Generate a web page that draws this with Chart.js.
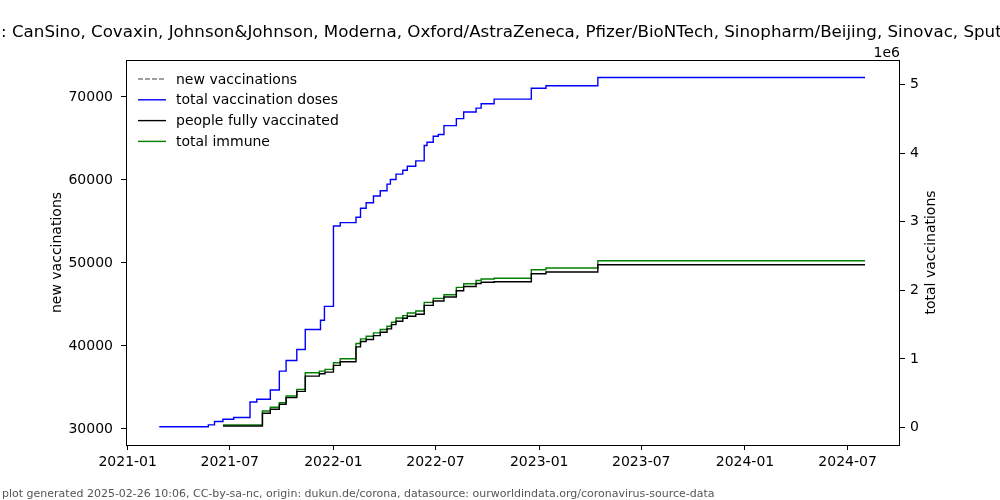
<!DOCTYPE html>
<html>
<head>
<meta charset="utf-8">
<script src="https://cdn.jsdelivr.net/npm/chart.js@4/dist/chart.umd.min.js"></script>
<style>
  html, body { margin: 0; padding: 0; background: #fff; }
  #wrap { width: 1000px; height: 500px; }
</style>
</head>
<body>
<div id="wrap"><canvas id="vaccChart" width="1000" height="500"></canvas></div>
<script>
// Daten
const titleText = ': CanSino, Covaxin, Johnson&Johnson, Moderna, Oxford/AstraZeneca, Pfizer/BioNTech, Sinopharm/Beijing, Sinovac, Sputnik V';
const footerText = 'plot generated 2025-02-26 10:06, CC-by-sa-nc, origin: dukun.de/corona, datasource: ourworldindata.org/coronavirus-source-data';

const seriesNames = ['new vaccinations', 'total vaccination doses', 'people fully vaccinated', 'total immune'];

const xTickDates = ['2021-01-01', '2021-07-01', '2022-01-01', '2022-07-01', '2023-01-01', '2023-07-01', '2024-01-01', '2024-07-01'];
const xTickLabels = ['2021-01', '2021-07', '2022-01', '2022-07', '2023-01', '2023-07', '2024-01', '2024-07'];
const leftTicks = [30000, 40000, 50000, 60000, 70000];
const rightTicks = [0, 1, 2, 3, 4, 5];

// new vaccinations: no visible points in the picture
const newDates = [];
const newValues = [];

// total vaccination doses (steps)
const doseDates = ['2021-02-26', '2021-05-24', '2021-06-04', '2021-06-19', '2021-07-08', '2021-08-06', '2021-08-18',
  '2021-09-11', '2021-09-27', '2021-10-09', '2021-10-28', '2021-11-12', '2021-12-09', '2021-12-16', '2022-01-01',
  '2022-01-13', '2022-02-10', '2022-02-18', '2022-02-28', '2022-03-13', '2022-03-25', '2022-04-06', '2022-04-12',
  '2022-04-22', '2022-05-04', '2022-05-12', '2022-05-27', '2022-06-11', '2022-06-16', '2022-06-27', '2022-07-06',
  '2022-07-16', '2022-08-07', '2022-08-20', '2022-09-11', '2022-09-20', '2022-10-13', '2022-12-18', '2023-01-13',
  '2023-04-15', '2024-08-01'];
const doseValues = [10000, 38000, 87000, 120000, 145000, 372000, 411000,
  546000, 822000, 977000, 1137000, 1428000, 1563000, 1766000, 2938000,
  2986000, 3064000, 3195000, 3276000, 3374000, 3451000, 3548000, 3616000,
  3693000, 3751000, 3809000, 3886000, 4110000, 4158000, 4245000, 4270000,
  4400000, 4502000, 4598000, 4656000, 4720000, 4787000, 4946000, 4981000,
  5102000, 5102000];

// people fully vaccinated / total immune (same step dates)
const fullyDates = ['2021-06-19', '2021-08-28', '2021-09-11', '2021-09-27', '2021-10-09', '2021-10-28', '2021-11-12',
  '2021-12-07', '2021-12-17', '2022-01-01', '2022-01-13', '2022-02-10', '2022-02-18', '2022-02-28', '2022-03-13',
  '2022-03-25', '2022-04-06', '2022-04-14', '2022-04-22', '2022-05-04', '2022-05-12', '2022-05-27', '2022-06-11',
  '2022-06-27', '2022-07-16', '2022-08-07', '2022-08-20', '2022-09-11', '2022-09-20', '2022-10-13', '2022-12-18',
  '2023-01-13', '2023-04-15', '2024-08-01'];
const fullyValues = [23000, 208000, 266000, 338000, 436000, 527000, 749000,
  784000, 807000, 905000, 958000, 1176000, 1253000, 1282000, 1340000,
  1388000, 1438000, 1500000, 1548000, 1592000, 1621000, 1650000, 1780000,
  1844000, 1902000, 1994000, 2056000, 2100000, 2118000, 2125000, 2241000,
  2266000, 2372000, 2372000];
const immuneValues = [38000, 241000, 295000, 363000, 459000, 556000, 799000,
  822000, 847000, 944000, 1002000, 1224000, 1292000, 1330000, 1380000,
  1428000, 1475000, 1534000, 1597000, 1631000, 1670000, 1699000, 1824000,
  1882000, 1936000, 2042000, 2096000, 2143000, 2164000, 2175000, 2299000,
  2324000, 2430000, 2430000];

const colors = ['#808080', '#0000ff', '#000000', '#008000'];
const FONT = "'DejaVu Sans', sans-serif";

function toPoints(dates, values) {
  return dates.map((d, i) => ({ x: Date.parse(d), y: values[i] }));
}

// Rahmen, Titel, Legende und Beschriftungen wie bei matplotlib
const extras = {
  id: 'extras',
  afterDraw(chart) {
    const c = chart.ctx;
    const a = chart.chartArea;
    c.save();
    c.strokeStyle = '#000';
    c.lineWidth = 1;
    c.strokeRect(Math.round(a.left) + 0.5, Math.round(a.top) + 0.5,
      Math.round(a.right - a.left) - 1, Math.round(a.bottom - a.top));

    c.fillStyle = '#000';
    c.font = '16.7px ' + FONT;
    c.textBaseline = 'alphabetic';
    c.textAlign = 'left';
    c.fillText(titleText, 1, 37);

    c.font = '14px ' + FONT;
    c.textAlign = 'right';
    c.fillText('1e6', a.right, 57);

    // axis titles
    c.textAlign = 'center';
    c.textBaseline = 'middle';
    c.save();
    c.translate(57, (a.top + a.bottom) / 2);
    c.rotate(-Math.PI / 2);
    c.fillText('new vaccinations', 0, 0);
    c.restore();
    c.save();
    c.translate(931, (a.top + a.bottom) / 2);
    c.rotate(-Math.PI / 2);
    c.fillText('total vaccinations', 0, 0);
    c.restore();

    // legend
    c.textAlign = 'left';
    chart.data.datasets.forEach((ds, i) => {
      const y = 79 + i * 20.8;
      c.beginPath();
      c.strokeStyle = ds.borderColor;
      c.lineWidth = 1.4;
      c.setLineDash(ds.borderDash || []);
      c.moveTo(138, y);
      c.lineTo(166, y);
      c.stroke();
      c.setLineDash([]);
      c.fillStyle = '#000';
      c.fillText(ds.label, 176, y + 1);
    });

    // footer
    c.font = '11px ' + FONT;
    c.fillStyle = '#555';
    c.textBaseline = 'alphabetic';
    c.fillText(footerText, 2, 497);
    c.restore();
  }
};

const tickFont = { family: FONT, size: 14 };
const axisGrid = { drawOnChartArea: false, drawTicks: true, tickLength: 5, color: '#000', lineWidth: 1 };

new Chart(document.getElementById('vaccChart').getContext('2d'), {
  type: 'line',
  data: {
    datasets: [
      {
        label: seriesNames[0],
        data: toPoints(newDates, newValues),
        yAxisID: 'y',
        borderColor: colors[0],
        borderDash: [5, 2],
        borderWidth: 1.4
      },
      {
        label: seriesNames[1],
        data: toPoints(doseDates, doseValues),
        yAxisID: 'y1',
        borderColor: colors[1],
        borderWidth: 1.4,
        stepped: 'before'
      },
      {
        label: seriesNames[2],
        data: toPoints(fullyDates, fullyValues),
        yAxisID: 'y1',
        borderColor: colors[2],
        borderWidth: 1.4,
        stepped: 'before'
      },
      {
        label: seriesNames[3],
        data: toPoints(fullyDates, immuneValues),
        yAxisID: 'y1',
        borderColor: colors[3],
        borderWidth: 1.4,
        stepped: 'before'
      }
    ]
  },
  options: {
    responsive: false,
    animation: false,
    devicePixelRatio: 1,
    layout: { padding: { top: 60, left: 0, right: 0, bottom: 0 } },
    elements: { point: { radius: 0 }, line: { tension: 0 } },
    plugins: { legend: { display: false }, title: { display: false }, tooltip: { enabled: false } },
    scales: {
      x: {
        type: 'linear',
        min: Date.parse('2020-12-29'),
        max: Date.parse('2024-10-02'),
        grid: axisGrid,
        border: { display: false },
        afterBuildTicks: s => { s.ticks = xTickDates.map(d => ({ value: Date.parse(d) })); },
        afterFit: s => { s.height = 55; },
        ticks: {
          autoSkip: false, maxRotation: 0, color: '#000', font: tickFont, padding: 4,
          callback: (v, i) => xTickLabels[i]
        }
      },
      y: {
        position: 'left',
        min: 28070,
        max: 74458,
        grid: axisGrid,
        border: { display: false },
        afterBuildTicks: s => { s.ticks = leftTicks.map(v => ({ value: v })); },
        afterFit: s => { s.width = 126; },
        ticks: { color: '#000', font: tickFont, padding: 8, callback: v => String(v) }
      },
      y1: {
        position: 'right',
        min: -255000,
        max: 5357000,
        grid: axisGrid,
        border: { display: false },
        afterBuildTicks: s => { s.ticks = rightTicks.map(v => ({ value: v * 1e6 })); },
        afterFit: s => { s.width = 100; },
        ticks: { color: '#000', font: tickFont, padding: 5, callback: v => String(Math.round(v / 1e6)) }
      }
    }
  },
  plugins: [extras]
});
</script>
</body>
</html>
